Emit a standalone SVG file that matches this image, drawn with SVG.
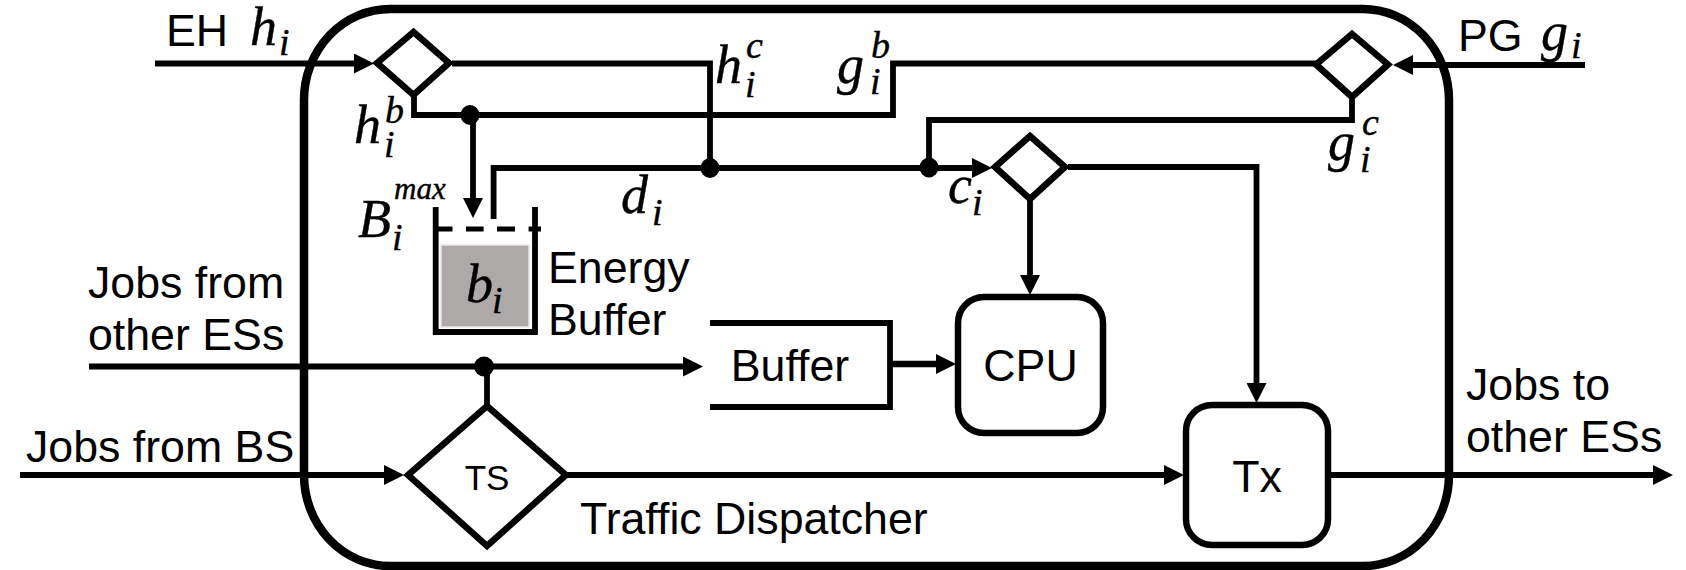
<svg xmlns="http://www.w3.org/2000/svg" width="1686" height="570" viewBox="0 0 1686 570">
<style>
.w{fill:none;stroke:#000;stroke-width:5.8}
.s{fill:#fff;stroke:#000;stroke-width:6.500}
.d{fill:#000;stroke:none}
text{fill:#000}
.t{font-family:"Liberation Sans",Arial,sans-serif;font-size:44.700px}
.m{font-family:"Liberation Serif","Times New Roman",serif;font-style:italic;font-size:54px;stroke:#000;stroke-width:.4}
.sb{font-family:"Liberation Serif","Times New Roman",serif;font-style:italic;font-size:38px;stroke:#000;stroke-width:.4}
</style>
<defs>
<marker id="a" markerUnits="userSpaceOnUse" markerWidth="20" markerHeight="20" refX="2" refY="10" orient="auto"><path d="M0 0L20 10L0 20z" fill="#000"/></marker>
</defs>
<rect id="frame" x="304" y="9" width="1145" height="557" rx="86" ry="91" fill="none" stroke="#000" stroke-width="8.500"/>
<g id="connectors" class="w">
<path marker-end="url(#a)" d="M155 63.500H356"/>
<path d="M452 63.500H710V168"/>
<path d="M414 92V115H893V63.500H1316"/>
<path marker-end="url(#a)" d="M473 115V200"/>
<path marker-end="url(#a)" d="M493.600 219V168H974"/>
<path d="M929 168V120H1352V97"/>
<path marker-end="url(#a)" d="M1585 65H1411"/>
<path marker-end="url(#a)" d="M1030 199V277"/>
<path marker-end="url(#a)" d="M1068 167H1256.500V385"/>
<path marker-end="url(#a)" d="M89 366.500H685"/>
<path d="M487 366.500V405"/>
<path marker-end="url(#a)" d="M20 475H386"/>
<path marker-end="url(#a)" d="M567 475H1166"/>
<path marker-end="url(#a)" d="M1330 475H1655"/>
<path marker-end="url(#a)" style="stroke-width:6.500" d="M890 364H938"/>
<ellipse class="d" cx="470" cy="115" rx="9.500" ry="10"/>
<ellipse class="d" cx="710" cy="168" rx="9.500" ry="10"/>
<ellipse class="d" cx="929" cy="167.500" rx="9.500" ry="10"/>
<ellipse class="d" cx="484" cy="366.500" rx="10" ry="10"/>
</g>
<g id="switch-eh"><path class="s" style="fill:none" d="M413.500 32L449 63L413.500 95L377 63Z"/></g>
<g id="switch-pg"><path class="s" style="fill:none" d="M1352 34L1388 64.500L1352 97L1316 64.500Z"/></g>
<g id="switch-c"><path class="s" style="fill:none" d="M1030 136L1065 167L1030 199L995 167Z"/></g>
<g id="ts"><path class="s" style="fill:none" d="M487 406L566 475L487 546L408 475Z"/>
<text class="t" style="font-size:35px" x="487" y="490" text-anchor="middle">TS</text></g>
<g id="energy-buffer">
<rect x="441" y="245" width="88" height="82" fill="#aca9a8" stroke="#e8e6e5" stroke-width="1.500"/>
<path class="w" d="M435.700 207V332H535V207"/>
<path d="M438 229H452.500M466 229H483.600M497 229H515M528.600 229H541" stroke="#000" stroke-width="5" fill="none"/>
<text class="m" x="466" y="302">b</text><text class="sb" x="492" y="313">i</text>
<text class="t" x="548" y="283">Energy</text>
<text class="t" x="548" y="335">Buffer</text>
</g>
<g id="job-buffer"><path class="w" d="M710 323H890V407H710"/>
<text class="t" x="790" y="381" text-anchor="middle">Buffer</text></g>
<g id="cpu"><rect class="s" x="958" y="297" width="145" height="136" rx="26" ry="26"/>
<text class="t" x="1030.500" y="381" text-anchor="middle">CPU</text></g>
<g id="tx"><rect class="s" x="1186" y="405" width="142" height="140" rx="26" ry="26"/>
<text class="t" x="1257" y="492" text-anchor="middle">Tx</text></g>
<g id="labels">
<text class="t" x="166" y="46">EH</text>
<text class="m" x="250" y="45">h</text><text class="sb" x="279" y="55">i</text>
<text class="t" x="1458" y="51">PG</text>
<text class="m" x="1541" y="50">g</text><text class="sb" x="1571" y="58">i</text>
<text class="m" x="354" y="143">h</text><text class="sb" x="385" y="123">b</text><text class="sb" x="384" y="157">i</text>
<text class="m" x="715" y="83">h</text><text class="sb" x="746" y="58">c</text><text class="sb" x="745" y="97">i</text>
<text class="m" x="837" y="83">g</text><text class="sb" x="871" y="58">b</text><text class="sb" x="870" y="94">i</text>
<text class="m" x="1328" y="160">g</text><text class="sb" x="1362" y="135">c</text><text class="sb" x="1360" y="172">i</text>
<text class="m" x="948" y="203">c</text><text class="sb" x="972" y="215">i</text>
<text class="m" x="621" y="213">d</text><text class="sb" x="652" y="225">i</text>
<text class="m" x="358" y="237">B</text><text class="sb" x="392" y="250">i</text><text class="sb" style="font-size:31px" x="394" y="199">max</text>
<text class="t" x="88" y="298">Jobs from</text>
<text class="t" x="88" y="350">other ESs</text>
<text class="t" x="26" y="462">Jobs from BS</text>
<text class="t" x="580" y="534">Traffic Dispatcher</text>
<text class="t" x="1466" y="400">Jobs to</text>
<text class="t" x="1466" y="452">other ESs</text>
</g>
</svg>
